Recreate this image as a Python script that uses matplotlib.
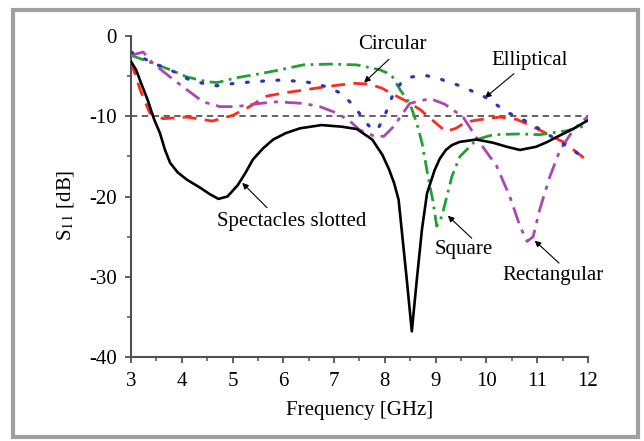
import matplotlib
matplotlib.use("Agg")
import matplotlib.pyplot as plt
from matplotlib.patches import Rectangle
from matplotlib.ticker import MultipleLocator

plt.rcParams["font.family"] = ["Liberation Serif", "DejaVu Serif"]
plt.rcParams["mathtext.fontset"] = "stix"
plt.rcParams["axes.unicode_minus"] = False

# S11 curves (GHz, dB)
spect_f = [3.0, 3.1, 3.2, 3.33, 3.45, 3.57, 3.67, 3.77, 3.92, 4.1, 4.36, 4.55,
           4.72, 4.9, 5.1, 5.25, 5.4, 5.6, 5.8, 6.05, 6.33, 6.75, 7.15, 7.45,
           7.75, 7.95, 8.08, 8.18, 8.27, 8.33, 8.43, 8.53, 8.63, 8.73, 8.83,
           8.98, 9.08, 9.2, 9.32, 9.47, 9.8, 10.13, 10.4, 10.66, 10.98, 11.2,
           11.38, 11.7, 12.0]
spect_db = [-3.2, -4.2, -5.9, -8.0, -10.3, -12.1, -14.2, -15.8, -17.0, -17.9,
            -18.9, -19.7, -20.3, -20.0, -18.6, -17.1, -15.4, -14.0, -12.9, -12.1,
            -11.5, -11.1, -11.3, -11.6, -12.9, -14.8, -16.6, -18.3, -20.4, -24.1,
            -30.3, -36.8, -30.3, -24.1, -19.6, -16.7, -15.3, -14.2, -13.6, -13.2,
            -12.9, -13.3, -13.8, -14.2, -13.8, -13.2, -12.6, -11.6, -10.5]

circ_f = [3.0, 3.18, 3.37, 3.63, 4.1, 4.6, 5.0, 5.28, 5.67, 6.0, 6.33, 6.75,
          7.1, 7.41, 7.7, 7.94, 8.2, 8.45, 8.7, 8.9, 9.2, 9.4, 9.6, 9.9, 10.26,
          10.6, 10.85, 11.2, 11.54, 12.0]
circ_db = [-3.2, -6.7, -9.6, -10.3, -10.1, -10.6, -9.9, -9.0, -7.5, -7.1, -6.8,
           -6.4, -6.1, -5.9, -6.0, -6.5, -7.4, -8.2, -9.2, -10.3, -11.9, -11.5,
           -10.7, -10.4, -10.1, -10.4, -11.1, -12.2, -13.3, -15.6]

ellip_f = [3.0, 3.2, 3.43, 3.7, 3.93, 4.16, 4.42, 4.69, 4.9, 5.4, 5.9, 6.2,
           6.43, 6.68, 6.92, 7.12, 7.31, 7.47, 7.64, 7.75, 7.85, 7.98, 8.14,
           8.33, 8.53, 8.79, 9.06, 9.52, 9.97, 10.44, 10.84, 11.48, 12.0]
ellip_db = [-2.0, -2.6, -3.4, -4.0, -4.7, -5.5, -5.9, -6.2, -6.0, -5.7, -5.5,
            -5.6, -5.7, -6.0, -6.5, -7.1, -8.2, -9.4, -10.9, -11.6, -11.7, -10.2,
            -7.6, -5.7, -5.1, -4.9, -5.3, -6.3, -7.6, -9.6, -10.8, -13.3, -15.5]

square_f = [3.0, 3.43, 3.77, 4.1, 4.5, 4.7, 5.08, 5.54, 5.87, 6.39, 6.92, 7.45,
            7.9, 8.04, 8.15, 8.3, 8.49, 8.63, 8.73, 8.85, 8.95, 9.02, 9.12, 9.22,
            9.32, 9.48, 9.81, 10.13, 10.66, 11.05, 11.58, 12.0]
square_db = [-2.4, -3.4, -4.2, -5.1, -5.7, -5.8, -5.2, -4.7, -4.3, -3.6, -3.5,
             -3.6, -4.2, -4.6, -5.1, -6.7, -8.4, -10.9, -13.3, -17.5, -20.7,
             -23.7, -22.5, -20.0, -17.5, -15.0, -12.9, -12.3, -12.2, -12.3,
             -11.8, -11.1]

rect_f = [3.0, 3.24, 3.43, 3.77, 4.1, 4.42, 4.75, 5.08, 5.54, 5.87, 6.39, 6.72,
          7.05, 7.31, 7.5, 7.8, 7.98, 8.17, 8.49, 8.89, 9.18, 9.54, 9.87, 10.2,
          10.46, 10.66, 10.8, 10.92, 11.05, 11.25, 11.45, 11.7, 12.0]
rect_db = [-2.4, -2.0, -3.4, -5.1, -6.7, -8.2, -8.8, -8.8, -8.4, -8.2, -8.4,
           -8.8, -9.6, -10.6, -11.7, -12.5, -12.5, -11.3, -8.4, -7.8, -8.5,
           -10.1, -13.3, -16.2, -20.0, -23.7, -25.6, -25.0, -21.6, -17.5, -14.2,
           -11.8, -10.0]

ref_level = -10

# label text, text position, arrow tip, arrow tail
labels = [
    ("Circular", (8.14, -1.1), (7.59, -5.8), (8.08, -2.9)),
    ("Elliptical", (10.85, -3.0), (9.97, -7.7), (10.54, -4.7)),
    ("Spectacles slotted", (6.17, -23.1), (5.19, -18.3), (5.68, -21.4)),
    ("Square", (9.56, -26.6), (9.24, -22.4), (9.71, -25.2)),
    ("Rectangular", (11.31, -29.9), (10.95, -25.5), (11.43, -28.3)),
]

fig = plt.figure(figsize=(6.44, 4.41), dpi=100)
ax = fig.add_axes([131 / 644, 1 - 357 / 441, 457 / 644, 321 / 441])

ax.axhline(ref_level, color="#555555", lw=1.3, ls=(0, (3.5, 2.5)), zorder=1)
ax.plot(spect_f, spect_db, color="black", lw=1.9, zorder=5)
ax.plot(circ_f, circ_db, color="#ff2a1f", lw=2.0, ls=(0, (5, 3)), zorder=3)
ax.plot(ellip_f, ellip_db, color="#2b35b5", lw=2.3, ls=(0, (0.6, 4.2)),
        dash_capstyle="round", zorder=4)
ax.plot(square_f, square_db, color="#22a035", lw=2.0, ls=(0, (5, 2, 1, 2)), zorder=3)
ax.plot(rect_f, rect_db, color="#a848b5", lw=2.0, ls=(0, (6, 2.5, 1.5, 2.5)), zorder=3)

for text, pos, tip, tail in labels:
    ax.text(pos[0], pos[1], text, fontsize=15, ha="center", va="center")
    ax.annotate("", xy=tip, xytext=tail,
                arrowprops=dict(arrowstyle="-|>", color="black", lw=0.8,
                                mutation_scale=9, shrinkA=0, shrinkB=0))

ax.set_xlim(3, 12)
ax.set_ylim(-40, 0)
ax.xaxis.set_major_locator(MultipleLocator(1))
ax.xaxis.set_minor_locator(MultipleLocator(0.5))
ax.yaxis.set_major_locator(MultipleLocator(10))
ax.yaxis.set_minor_locator(MultipleLocator(5))
for side in ("top", "right"):
    ax.spines[side].set_visible(False)
for side in ("left", "bottom"):
    ax.spines[side].set_color("#505050")
    ax.spines[side].set_linewidth(1.5)
ax.tick_params(which="major", direction="out", length=4, width=1.3,
               color="#505050", labelsize=15)
ax.tick_params(which="minor", direction="out", length=3, width=1.1, color="#505050")
ax.tick_params(axis="x", pad=7)
ax.tick_params(axis="y", pad=6)

fig.text(360 / 644, 1 - 410 / 441, "Frequency [GHz]", fontsize=15,
         ha="center", va="center")
fig.text(66 / 644, 1 - 205 / 441, r"S$_{11}$ [dB]", fontsize=15,
         ha="center", va="center", rotation=90)

fig.patches.append(Rectangle((13 / 644, 1 - 437 / 441), 625 / 644, 427.5 / 441,
                             transform=fig.transFigure, fill=False,
                             edgecolor="#a0a0a0", lw=3))

fig.savefig("out.png", dpi=100)
